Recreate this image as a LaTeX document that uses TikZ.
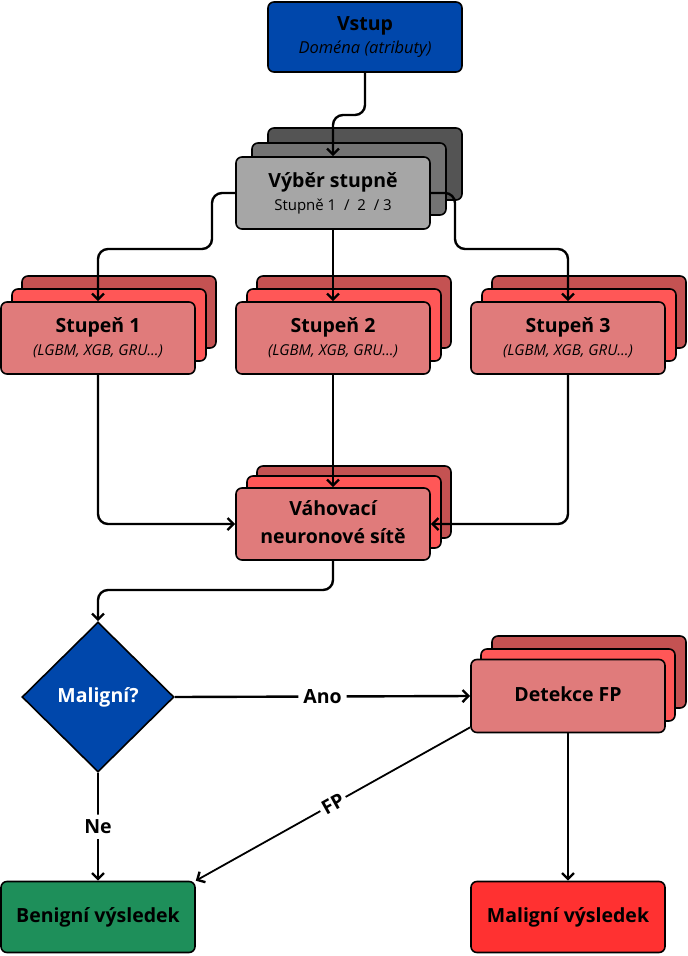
\documentclass[tikz,border=0pt]{standalone}
\usepackage{fontspec}
\setmainfont{Open Sans}
\usetikzlibrary{arrows.meta}
\usetikzlibrary{shapes.geometric}
\definecolor{inblue}{RGB}{0,71,171}
\definecolor{gfront}{RGB}{166,166,166}
\definecolor{gmid}{RGB}{115,115,115}
\definecolor{gback}{RGB}{84,84,84}
\definecolor{rfront}{RGB}{224,123,123}
\definecolor{rmid}{RGB}{255,87,87}
\definecolor{rback}{RGB}{196,82,82}
\definecolor{okgreen}{RGB}{30,143,90}
\definecolor{badred}{RGB}{255,49,49}
\newcommand{\headtxt}[1]{{\fontsize{19.5}{23}\selectfont\bfseries #1}}
\newcommand{\subtxt}[1]{{\fontsize{15}{23}\selectfont #1}}
\tikzset{
	boxstyle/.style={rectangle,rounded corners=6,draw=black,line width=1.6,minimum width=194,minimum height=72,align=center,inner sep=2,text depth=3,font=\fontsize{15}{23}\selectfont},
	inputstyle/.style={boxstyle,fill=inblue,minimum height=70},
	graystyle/.style={boxstyle,fill=gfront},
	redstyle/.style={boxstyle,fill=rfront},
	midstyle/.style={boxstyle,fill=#1},
	endstyle/.style={boxstyle,fill=#1,minimum height=71,font=\fontsize{19.5}{22}\selectfont\bfseries},
	diamstyle/.style={diamond,draw=black,line width=1.6,fill=inblue,minimum width=152,minimum height=150,inner sep=0,text=white,font=\fontsize{19.5}{22}\selectfont\bfseries},
	flowstyle/.style={draw=black,line width=2.4,rounded corners=10,-{Straight Barb[length=6,width=12,line width=2.4]}},
	labelstyle/.style={fill=white,inner sep=5,font=\fontsize{19.5}{22}\selectfont\bfseries}
}

\begin{document}
\begin{tikzpicture}[x=1pt,y=-1pt]
	\useasboundingbox (0,0) rectangle (688,956);
	% vstup
	\node[inputstyle] (vstup) at (365,37) {\headtxt{Vstup}\\\subtxt{\fontsize{16.5}{23}\selectfont\itshape Doména (atributy)}};
	% vyber stupne
	\node[midstyle=gback] (vyb3) at (365,164) {};
	\node[midstyle=gmid] (vyb2) at (349,179) {};
	\node[graystyle] (vyber) at (333,193) {\headtxt{Výběr stupně}\\\subtxt{Stupně 1~ /~ 2~ /~3}};
	% stupne
	\node[midstyle=rback] (st1c) at (119,312) {};
	\node[midstyle=rmid] (st1b) at (109,325) {};
	\node[redstyle] (st1) at (98,338) {\headtxt{Stupeň 1}\\\subtxt{\itshape (LGBM, XGB, GRU...)}};
	\node[midstyle=rback] (st2c) at (354,312) {};
	\node[midstyle=rmid] (st2b) at (344,325) {};
	\node[redstyle] (st2) at (333,338) {\headtxt{Stupeň 2}\\\subtxt{\itshape (LGBM, XGB, GRU...)}};
	\node[midstyle=rback] (st3c) at (589,312) {};
	\node[midstyle=rmid] (st3b) at (579,325) {};
	\node[redstyle] (st3) at (568,338) {\headtxt{Stupeň 3}\\\subtxt{\itshape (LGBM, XGB, GRU...)}};
	% vahovaci site
	\node[midstyle=rback] (vah3) at (354,502) {};
	\node[midstyle=rmid] (vah2) at (344,512) {};
	\node[redstyle,font=\fontsize{19.5}{28}\selectfont\bfseries] (vahy) at (333,524) {Váhovací\\neuronové sítě};
	% rozhodnuti
	\node[diamstyle] (mal) at (98,697) {Maligní?};
	\node[midstyle=rback] (fp3) at (589,672) {};
	\node[midstyle=rmid] (fp2) at (578,685) {};
	\node[endstyle=rfront,minimum height=73] (fp) at (568,696) {Detekce FP};
	\node[endstyle=okgreen] (ben) at (98,917) {Benigní výsledek};
	\node[endstyle=badred] (malv) at (568,917) {Maligní výsledek};
	% spojnice
	\draw[flowstyle] (vstup.south) -- (vstup.south |- 0,115) -| (vyber.north);
	\draw[flowstyle] (vyber.west) -| (212,249) -| (st1.north);
	\draw[flowstyle] (vyber.south) -- (st2.north);
	\draw[flowstyle] (vyber.east) -| (455,249) -| (st3.north);
	\draw[flowstyle] (st1.south) |- (vahy.west);
	\draw[flowstyle] (st2.south) -- (vahy.north);
	\draw[flowstyle] (st3.south) |- (vahy.east);
	\draw[flowstyle] (vahy.south) -- (vahy.south |- 0,590) -| (mal.north);
	\draw[flowstyle] (mal.east) -- node[labelstyle] {Ano} (fp.west);
	\draw[flowstyle] (mal.south) -- node[labelstyle] {Ne} (ben.north);
	\draw[flowstyle,line width=1.8] ([yshift=6]fp.south west) -- node[labelstyle,sloped,inner sep=3] {FP} (ben.north east);
	\draw[flowstyle] (fp.south) -- (malv.north);
\end{tikzpicture}
\end{document}
